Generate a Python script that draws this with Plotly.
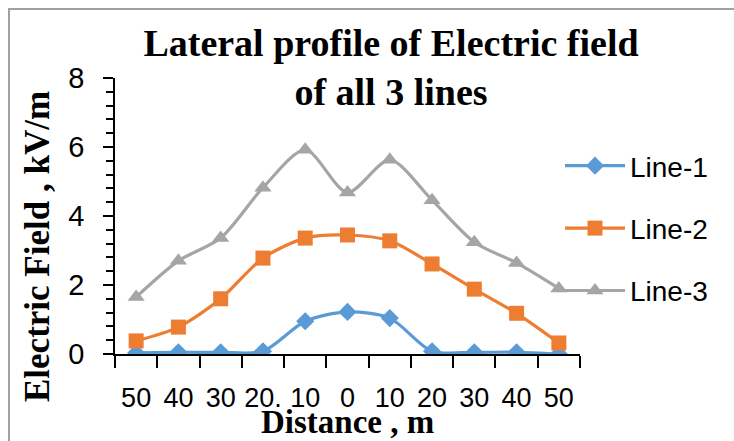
import plotly.graph_objects as go

distance = [-50, -40, -30, -20, -10, 0, 10, 20, 30, 40, 50]
tick_labels = ["50", "40", "30", "20.", "10", "0", "10", "20", "30", "40", "50"]
boundaries = [-55, -45, -35, -25, -15, -5, 5, 15, 25, 35, 45, 55]

line1 = [0.03, 0.05, 0.05, 0.08, 0.95, 1.22, 1.04, 0.08, 0.05, 0.05, 0.0]
line2 = [0.38, 0.78, 1.6, 2.78, 3.36, 3.45, 3.28, 2.61, 1.88, 1.18, 0.32]
line3 = [1.65, 2.7, 3.36, 4.82, 5.92, 4.68, 5.63, 4.46, 3.24, 2.64, 1.9]

names = ["Line-1", "Line-2", "Line-3"]
colors = ["#5B9BD5", "#ED7D31", "#A5A5A5"]
symbols = ["diamond", "square", "triangle-up"]
sizes = [14, 15, 15]

fig = go.Figure()
for i, (vals, name) in enumerate(zip([line1, line2, line3], names)):
    fig.add_trace(go.Scatter(
        x=distance, y=vals, name=name, mode="lines+markers",
        legendgroup=name,
        line=dict(color=colors[i], width=3.2, shape="spline", smoothing=0.8),
        marker=dict(symbol=symbols[i], size=sizes[i], color=colors[i]),
    ))

W, H = 734, 441
L, R, T, B = 115, 154, 78, 87
pw, ph = W - L - R, H - T - B

def px_x(p):
    return (p - L) / pw

def px_y(p):
    return (H - B - p) / ph

fig.update_layout(
    width=W, height=H,
    margin=dict(l=L, r=R, t=T, b=B),
    paper_bgcolor="white", plot_bgcolor="white",
    showlegend=True,
    title=dict(
        text="Lateral profile of Electric field<br>of all 3 lines",
        font=dict(family="Liberation Serif", size=38, color="black", weight="bold"),
        x=391 / W, xanchor="center", xref="container",
        y=1 - 56 / H, yanchor="middle", yref="container",
    ),
    legend=dict(
        x=px_x(560), y=px_y(141), xanchor="left", yanchor="top",
        font=dict(family="Liberation Sans", size=28, color="black"),
        traceorder="grouped", tracegroupgap=23, itemwidth=60,
        bgcolor="rgba(0,0,0,0)",
    ),
    xaxis=dict(
        range=[-55, 55], tickmode="array", tickvals=distance, ticktext=tick_labels,
        ticks="", showgrid=False, zeroline=False,
        showline=True, linecolor="black", linewidth=1.5,
        tickfont=dict(family="Liberation Sans", size=27, color="black"),
        ticklabelstandoff=19,
        minor=dict(tickmode="array", tickvals=boundaries, ticks="outside",
                   ticklen=12, tickcolor="black", tickwidth=1.5, showgrid=False),
    ),
    yaxis=dict(
        range=[0, 8], tickmode="linear", tick0=0, dtick=2,
        ticks="outside", ticklen=10, tickcolor="black", tickwidth=1.5,
        showgrid=False, zeroline=False,
        showline=True, linecolor="black", linewidth=1.5,
        tickfont=dict(family="Liberation Sans", size=29, color="black"),
        ticklabelstandoff=13,
        minor=dict(dtick=0.4, ticks="outside", ticklen=7, tickcolor="black",
                   tickwidth=1.5, showgrid=False),
    ),
    annotations=[
        dict(text="Electric Field , kV/m", textangle=-90, showarrow=False,
             xref="paper", yref="paper", x=px_x(37), y=px_y(247),
             xanchor="center", yanchor="middle",
             font=dict(family="Liberation Serif", size=35, color="black", weight="bold")),
        dict(text="Distance , m", showarrow=False,
             xref="paper", yref="paper", x=px_x(347), y=px_y(422),
             xanchor="center", yanchor="middle",
             font=dict(family="Liberation Serif", size=33, color="black", weight="bold")),
    ],
    shapes=[
        dict(type="rect", xref="paper", yref="paper",
             x0=px_x(9), x1=px_x(760), y0=px_y(9), y1=px_y(470),
             line=dict(color="#a0a0a0", width=2), layer="below"),
    ],
)

fig.write_html("out.html")
